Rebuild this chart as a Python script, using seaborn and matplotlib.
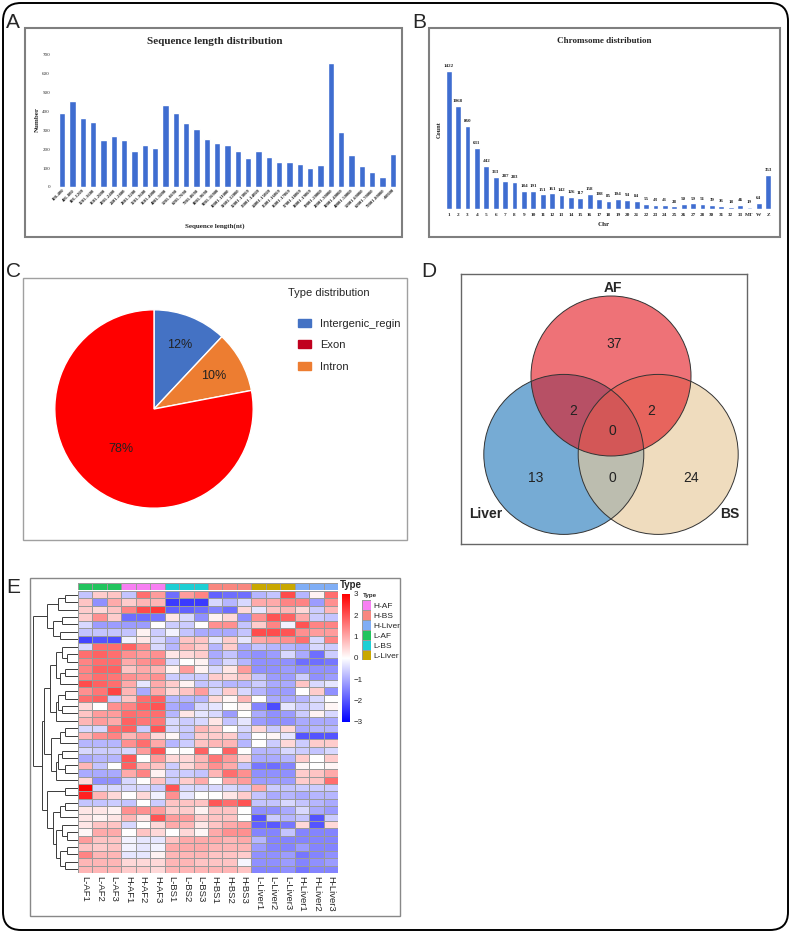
import numpy as np
import pandas as pd
import matplotlib
matplotlib.use("Agg")
import matplotlib.pyplot as plt
import seaborn as sns
from matplotlib.patches import FancyBboxPatch, Rectangle, Circle
from matplotlib.colors import LinearSegmentedColormap, ListedColormap
from matplotlib.transforms import IdentityTransform

sns.set_style("white")
plt.rcParams["font.family"] = ["Liberation Sans", "DejaVu Sans"]

# ---------------- data ----------------
seq_bins = ["100-400", "401-800", "801-1200", "1201-1600", "1601-2000", "2001-2400",
            "2401-2800", "2801-3200", "3201-3600", "3601-4000", "4001-5000", "5001-6000",
            "6001-7000", "7001-8000", "8001-9000", "9001-10000", "10001-11000",
            "11001-12000", "12001-13000", "13001-14000", "14001-15000", "15001-16000",
            "16001-17000", "17001-18000", "18001-19000", "19001-20000", "20001-30000",
            "30001-40000", "40001-50000", "50001-60000", "60001-70000", "70001-80000",
            ">80000"]
seq_counts = [390, 455, 365, 345, 250, 268, 248, 192, 222, 205, 435, 395, 340, 310,
              255, 232, 225, 193, 153, 190, 160, 135, 135, 120, 100, 115, 660, 290,
              170, 113, 82, 55, 175]

chr_labels = [str(i) for i in range(1, 29)] + ["30", "31", "32", "33", "MT", "W", "Z"]
chr_counts = [1422, 1068, 860, 631, 442, 333, 287, 283, 184, 191, 151, 161, 142, 126,
              117, 158, 108, 85, 104, 94, 84, 55, 43, 41, 28, 50, 59, 51, 39, 36, 18,
              46, 19, 64, 353]

pie_labels = ["Intergenic_regin", "Intron", "Exon"]
pie_values = [12, 10, 78]
pie_colors = ["#4472C4", "#ED7D31", "#FF0000"]
legend_labels = ["Intergenic_regin", "Exon", "Intron"]
legend_colors = ["#4472C4", "#C0001E", "#ED7D31"]

venn_sets = ["AF", "Liver", "BS"]
venn_colors = {"AF": "#E3141C", "Liver": "#76ABD4", "BS": "#E6C89A"}
venn_alpha = {"AF": 0.6, "Liver": 1.0, "BS": 0.635}
venn_regions = ["AF", "AF&Liver", "AF&BS", "AF&Liver&BS", "Liver", "Liver&BS", "BS"]
venn_counts = [37, 2, 2, 0, 13, 0, 24]

samples = ["L-AF1", "L-AF2", "L-AF3", "H-AF1", "H-AF2", "H-AF3", "L-BS1", "L-BS2",
           "L-BS3", "H-BS1", "H-BS2", "H-BS3", "L-Liver1", "L-Liver2", "L-Liver3",
           "H-Liver1", "H-Liver2", "H-Liver3"]
sample_type = ["L-AF"] * 3 + ["H-AF"] * 3 + ["L-BS"] * 3 + ["H-BS"] * 3 + \
              ["L-Liver"] * 3 + ["H-Liver"] * 3
type_levels = ["H-AF", "H-BS", "H-Liver", "L-AF", "L-BS", "L-Liver"]
type_colors = ["#F77FF2", "#F8877F", "#80AEF5", "#22C45E", "#1DCFD4", "#C9A800"]

heat_values = [
    [-0.7, 0.6, 0.7, -0.7, 1.7, 1.15, -1.7, 1.15, 1.45, -1.85, -1.7, -1.7, -0.85, -0.7, 2.1, -0.85, 0.15, 1.7],
    [0.7, -1.3, 1.0, 0.6, 0.85, 0.85, -2.3, -2.3, -2.3, -0.45, -0.85, -0.45, 1.0, 1.0, 1.45, 1.45, -1.15, 1.3],
    [0.6, 0.45, 0.7, 1.45, 2.1, 2.3, -1.85, -1.85, -1.7, -1.45, -1.7, 0.45, -0.3, 0.7, 0.85, 0.45, -0.6, 0.85],
    [0.6, 1.3, 0.6, -1.7, -1.7, -1.6, 0.3, -0.45, -1.3, 0.15, 0.45, -1.3, 1.3, 2.0, 1.85, 1.0, -0.6, -0.7],
    [-0.45, -1.15, -1.15, -1.15, -1.15, 0.0, -0.6, -0.6, 0.0, 1.3, 1.3, -0.7, 0.6, 1.45, -0.15, 2.0, 1.45, 1.45],
    [-0.7, -0.7, -0.7, -0.7, 0.15, -0.6, -0.15, -0.7, -1.0, -1.0, -1.0, -0.7, 2.1, 2.1, 2.0, 1.3, 1.15, 1.15],
    [-2.2, -2.0, -2.1, -0.15, 0.3, -0.45, -0.85, 0.7, 0.7, -0.3, 0.6, -0.3, 1.0, 1.15, 1.3, 1.7, -0.45, 1.45],
    [-0.45, 1.7, 1.7, 1.85, 1.3, -0.45, -0.85, 0.85, 0.6, -0.85, 0.6, -1.0, -0.7, -0.85, -0.85, -1.0, -0.45, -0.6],
    [1.7, 1.85, 1.7, 1.3, 1.15, 1.3, 0.3, 0.45, 0.6, -1.0, -0.7, -1.15, -1.3, -1.15, -0.45, -1.0, -1.7, -0.6],
    [1.45, 1.7, 1.7, 1.0, 1.3, 1.45, -0.45, 0.0, 0.15, -0.85, -0.45, -0.85, -1.3, -1.3, -1.3, -1.7, -1.7, -1.6],
    [1.45, 1.85, 1.85, 0.7, 1.0, 0.85, 0.15, 1.15, 0.15, -0.45, 0.3, 1.15, -1.3, -1.3, -1.15, -1.3, -1.3, -1.3],
    [1.45, 1.7, 1.6, 1.3, 1.15, 1.3, -0.6, -0.6, -0.6, 0.6, 0.45, 0.7, -0.7, -1.15, -1.15, -0.6, -1.3, -1.15],
    [2.1, 1.85, 1.7, 1.0, -0.3, 1.0, 0.6, 0.15, -0.7, -0.6, -0.85, -0.85, -0.6, -1.0, -1.0, 0.7, -0.45, -0.3],
    [1.3, 1.6, 2.2, 0.85, -1.0, 1.0, 0.45, 0.7, 1.15, -0.45, 0.6, -0.45, -0.85, -1.15, -1.15, 0.0, 0.6, -1.3],
    [1.7, 1.85, -0.6, 0.7, 1.7, 1.85, -0.85, -0.85, -0.85, 0.45, 0.1, 0.85, 0.0, -1.0, -1.0, -0.85, -0.45, 0.0],
    [0.45, 0.0, 1.3, 1.45, 1.85, 2.0, -1.0, -1.15, -0.45, -0.3, 0.0, 0.15, -1.45, -2.1, -0.3, -0.6, -0.45, 0.1],
    [0.7, 1.15, 1.15, 1.7, 1.6, 1.7, -0.85, 0.3, -0.3, -0.45, -1.15, 0.0, -1.0, -1.3, -1.15, -0.6, 0.15, -0.45],
    [0.85, 1.15, 1.0, 1.85, 1.6, 1.6, -0.45, -0.6, -0.45, 0.3, -0.7, -0.3, -1.15, -1.3, -1.3, -1.0, -1.0, -1.0],
    [-0.45, -0.45, 1.7, 1.85, -0.6, 2.0, -0.45, -0.6, 0.85, 0.6, 0.0, -0.45, 0.45, -0.6, 0.45, -1.0, -0.85, -0.85],
    [0.85, 1.3, 1.45, 0.85, 1.15, 0.45, 0.1, -0.7, 0.6, 0.6, 0.6, -0.7, 0.0, 0.1, -0.3, -2.0, -2.0, -2.0],
    [-0.85, -0.85, -0.85, 1.3, 1.7, 1.0, -0.85, -0.6, 0.7, 0.85, 0.85, -0.85, 0.0, -0.6, 0.45, -0.6, 0.6, 0.6],
    [-0.45, -0.6, -0.6, -0.45, 1.15, 2.0, 0.0, 0.0, 1.85, 0.0, 1.85, 0.0, -0.85, -0.85, -0.45, -0.6, -0.7, -0.45],
    [-1.0, -0.85, -0.85, 1.95, 0.0, 1.15, 0.45, 0.45, 0.85, 1.6, 1.15, 0.45, -1.0, -1.0, -0.85, 0.6, 0.0, 0.6],
    [0.85, -0.7, 0.0, 1.85, 0.85, 0.7, -0.6, 0.45, 0.85, 1.3, 1.0, -0.7, -1.6, -1.7, -1.45, 0.1, 0.0, 0.1],
    [-1.0, -1.0, -1.0, 1.0, 1.45, 0.15, -0.6, -0.6, -0.7, 0.85, 1.7, 1.3, -1.3, -1.3, -1.3, 0.6, 0.7, 1.0],
    [0.45, -1.3, -1.3, -0.45, 0.0, 0.7, -0.6, 0.6, 1.0, 0.0, 1.0, 1.15, -1.15, -1.15, -1.15, 0.6, 0.7, 1.7],
    [3.0, -0.45, -0.45, -0.45, -0.45, -0.6, 2.0, -0.45, -0.45, -0.45, -0.45, -0.6, 1.0, -0.6, -0.7, -0.6, -0.6, -0.6],
    [2.6, 0.85, 0.45, 0.0, 0.45, -0.15, 1.3, -0.3, 0.0, 0.0, 0.3, 0.6, -0.7, -1.0, -0.85, -1.0, -0.85, -0.85],
    [-0.7, -0.7, -0.6, -0.7, 0.0, -0.6, 0.7, 0.7, 0.7, 1.95, 1.7, 2.0, -0.7, -0.7, -0.45, -0.7, -0.85, -1.0],
    [0.3, 0.3, 0.15, 1.3, 1.3, 1.15, 0.6, 0.6, 0.15, 0.7, 0.7, 0.0, -1.3, -1.3, -1.0, -0.45, -1.0, -1.15],
    [0.3, 0.15, 0.3, 0.85, 0.3, 2.0, 1.15, 1.15, 0.6, 0.7, 0.7, 0.0, -2.0, -0.6, -0.85, -0.7, -2.0, -0.6],
    [0.3, 0.7, 0.7, -0.45, 0.0, 0.45, 1.0, 0.85, 0.3, 0.7, 1.0, 1.15, -1.85, -1.95, -1.6, 0.45, -2.0, 0.45],
    [0.1, 1.0, 1.0, 0.0, 0.7, 0.45, 0.0, 0.45, 0.1, 1.0, 1.3, 1.3, -1.45, -1.45, -0.7, -1.45, -1.45, -1.45],
    [1.15, 0.7, 0.7, -0.15, -0.3, -0.3, 0.7, 1.0, 1.0, 1.0, 0.85, 1.0, -0.85, -1.45, -1.45, -1.45, -1.45, -1.45],
    [0.7, 0.6, 0.7, -0.15, -0.3, -0.15, 1.0, 1.0, 1.0, 0.85, 0.85, 0.85, -1.15, -1.45, -1.45, -1.15, -1.45, -1.45],
    [1.45, 0.85, 0.85, -0.3, -0.3, 0.15, 0.85, 0.85, 0.85, 0.7, 0.7, 0.6, -1.3, -1.3, -1.15, -1.6, -1.45, -1.3],
    [0.85, 0.85, 0.85, 0.45, 0.45, 0.45, 0.85, 0.85, 0.7, 0.7, 0.7, -0.1, -1.3, -1.3, -1.15, -1.45, -1.3, -1.15],
    [0.85, 0.85, 0.85, 0.6, 0.6, 0.45, 0.85, 0.85, 0.85, 0.85, 0.85, 0.7, -1.45, -1.45, -1.3, -1.6, -1.45, -1.45],
]

# row dendrogram: (height, left, right); leaves are row indices
row_tree = (1.0,
            (0.70, (0.45, (0.30, 0, 1), 2), (0.55, (0.35, 3, 4), (0.40, 5, 6))),
            (0.80,
             (0.75,
              (0.62, (0.50, (0.35, 7, (0.25, 8, 9)), (0.40, (0.30, 10, 11), 12)),
                     (0.50, (0.45, (0.30, 13, 14), (0.35, 15, 16)), 17)),
              (0.60, (0.40, (0.30, 18, 19), 20),
                     (0.50, (0.45, (0.35, 21, 22), (0.30, 23, 24)), 25))),
             (0.68, (0.30, 26, 27),
                    (0.55, (0.40, (0.30, 28, 29), 30),
                           (0.50, (0.35, 31, (0.25, 32, 33)),
                                  (0.40, (0.25, 34, 35), (0.30, 36, 37)))))))

# ---------------- figure ----------------
W, H = 791, 933
fig = plt.figure(figsize=(W / 100, H / 100), dpi=100)
SERIF = "Liberation Serif"


def ax_px(x0, y0, x1, y1):
    return fig.add_axes([x0 / W, 1 - y1 / H, (x1 - x0) / W, (y1 - y0) / H])


def box_px(x0, y0, x1, y1, color, lw):
    fig.patches.append(Rectangle((x0 / W, 1 - y1 / H), (x1 - x0) / W, (y1 - y0) / H,
                                 transform=fig.transFigure, fill=False, ec=color, lw=lw))


def text_px(x, y, s, **kw):
    return fig.text(x / W, 1 - y / H, s, **kw)


# outer rounded frame
fig.patches.append(FancyBboxPatch((3, 3), 785, 927, boxstyle="round,pad=0,rounding_size=18",
                                  transform=IdentityTransform(), fill=False, ec="black", lw=1.4))

# panel letters
for lab, (x, y) in zip("ABCDE", [(6, 28), (412, 28), (6, 277), (421, 277), (6, 593)]):
    text_px(x, y, lab, fontsize=15, ha="left", va="baseline")

# ---------------- A ----------------
box_px(25, 28, 402, 237, "#7f7f7f", 1.5)
axA = ax_px(57, 55, 398, 187)
dfA = pd.DataFrame({"bin": seq_bins, "n": seq_counts})
sns.barplot(data=dfA, x="bin", y="n", ax=axA, color="#3f6dd0", saturation=1, width=0.6)
axA.set_ylim(0, 700)
axA.set_yticks(range(0, 701, 100))
axA.set_xlim(-0.5, len(seq_bins) - 0.5)
axA.set_xlabel("")
axA.set_ylabel("")
sns.despine(ax=axA, left=True, bottom=True)
axA.tick_params(axis="y", length=0, pad=5, labelsize=3.6)
axA.tick_params(axis="x", length=0, pad=1, labelsize=3.4)
for t in axA.get_yticklabels():
    t.set_fontfamily(SERIF)
for t in axA.get_xticklabels():
    t.set_fontfamily(SERIF)
    t.set_fontweight("bold")
    t.set_rotation(45)
    t.set_ha("right")
    t.set_rotation_mode("anchor")
text_px(215, 41, "Sequence length distribution", fontsize=8, fontweight="bold",
        family=SERIF, ha="center", va="center")
text_px(215, 226, "Sequence length(nt)", fontsize=5, fontweight="bold", family=SERIF,
        ha="center", va="center")
text_px(37, 120, "Number", fontsize=5, fontweight="bold", family=SERIF, rotation=90,
        ha="center", va="center")

# ---------------- B ----------------
box_px(429, 28, 780, 237, "#7f7f7f", 1.5)
axB = ax_px(444, 55, 773, 209)
dfB = pd.DataFrame({"chr": chr_labels, "n": chr_counts})
palB = {c: ("#a9c0ec" if c == "MT" else "#3f6dd0") for c in chr_labels}
sns.barplot(data=dfB, x="chr", y="n", hue="chr", palette=palB, legend=False, ax=axB,
            saturation=1, width=0.6)
axB.set_ylim(0, 1590)
axB.set_xlim(-0.5, len(chr_labels) - 0.5)
axB.set_yticks([])
axB.set_xlabel("")
axB.set_ylabel("")
sns.despine(ax=axB, left=True, bottom=True)
axB.tick_params(axis="x", length=0, pad=3, labelsize=3.8)
for t in axB.get_xticklabels():
    t.set_fontfamily(SERIF)
    t.set_fontweight("bold")
for cont in axB.containers:
    axB.bar_label(cont, fontsize=3.6, fontweight="bold", family=SERIF, padding=2)
text_px(604, 41, "Chromsome distribution", fontsize=6.5, fontweight="bold", family=SERIF,
        ha="center", va="center")
text_px(604, 224, "Chr", fontsize=5, fontweight="bold", family=SERIF, ha="center",
        va="center")
text_px(439, 130, "Count", fontsize=4.6, fontweight="bold", family=SERIF, rotation=90,
        ha="center", va="center")

# ---------------- C ----------------
box_px(23, 278, 407, 540, "#a0a0a0", 1.0)
axC = ax_px(30, 285, 278, 533)
wedges, texts, autotexts = axC.pie(pie_values, colors=pie_colors, startangle=90,
                                   counterclock=False, autopct="%d%%", pctdistance=0.69,
                                   wedgeprops=dict(edgecolor="white", linewidth=1.0),
                                   textprops=dict(fontsize=9, color="#222222"))
axC.set_aspect("equal")
x78, y78 = autotexts[2].get_position()
autotexts[2].set_position((x78 * 0.75, y78 * 0.75))
text_px(288, 293, "Type distribution", fontsize=8, ha="left", va="center")
handles = [Rectangle((0, 0), 1, 1, color=c) for c in legend_colors]
legC = fig.legend(handles, legend_labels, frameon=False,
                  loc="upper left", bbox_to_anchor=(292 / W, 1 - 313 / H),
                  fontsize=8, handlelength=1.2, handleheight=0.75,
                  handletextpad=0.8, labelspacing=1.05, borderpad=0)

# ---------------- D ----------------
axD = ax_px(461, 274, 747, 544)
axD.set_xlim(-1.875, 1.7)
axD.set_ylim(-1.45, 1.925)
axD.set_aspect("equal")
axD.set_xticks([])
axD.set_yticks([])
for s in axD.spines.values():
    s.set_color("#666666")
    s.set_linewidth(1.0)
    s.set_visible(True)
centers = {"AF": (0.0, 0.65), "Liver": (-0.59, -0.33), "BS": (0.59, -0.33)}
for name in ["Liver", "BS", "AF"]:
    axD.add_patch(Circle(centers[name], 1.0, fc=venn_colors[name], alpha=venn_alpha[name],
                         ec="none"))
for name in venn_sets:
    axD.add_patch(Circle(centers[name], 1.0, fc="none", ec="#333333", lw=0.7))
label_pos = {"AF": (0.025, 1.75), "Liver": (-1.56, -1.075), "BS": (1.49, -1.075)}
for name in venn_sets:
    axD.text(*label_pos[name], name, fontsize=10, fontweight="bold", ha="center",
             va="center")
region_pos = {"AF": (0.04, 1.05), "AF&Liver": (-0.475, 0.21), "AF&BS": (0.5, 0.21),
              "AF&Liver&BS": (0.0125, -0.04), "Liver": (-0.94, -0.625),
              "Liver&BS": (0.0125, -0.625), "BS": (1.0, -0.625)}
for reg, cnt in zip(venn_regions, venn_counts):
    axD.text(*region_pos[reg], str(cnt), fontsize=10, ha="center", va="center",
             color="#222222")

# ---------------- E ----------------
box_px(30, 578, 400, 916, "#888888", 1.0)
df_heat = pd.DataFrame(heat_values, columns=samples)
cmap = LinearSegmentedColormap.from_list("bwr_ph", ["#0000FF", "#FFFFFF", "#FF0000"])
axH = ax_px(78, 591, 338, 873)
axCb = ax_px(342, 594, 350, 722)
sns.heatmap(df_heat, ax=axH, cmap=cmap, vmin=-3, vmax=3, linewidths=0.6,
            linecolor="#9a9a9a", cbar_ax=axCb, xticklabels=True, yticklabels=False)
axH.tick_params(axis="x", length=0, pad=2, labelsize=6.8)
for t in axH.get_xticklabels():
    t.set_rotation(270)
    t.set_va("top")
    t.set_ha("center")
cbar = axH.collections[0].colorbar
cbar.outline.set_visible(False)
cbar.set_ticks([-3, -2, -1, 0, 1, 2, 3])
axCb.tick_params(length=0, pad=2.5, labelsize=5.8)

# column annotation
axAnn = ax_px(78, 583, 338, 590)
ann_idx = np.array([[type_levels.index(t) for t in sample_type]])
sns.heatmap(ann_idx, ax=axAnn, cmap=ListedColormap(type_colors), vmin=-0.5, vmax=5.5,
            cbar=False, linewidths=0.6, linecolor="#9a9a9a", xticklabels=False,
            yticklabels=False)
text_px(340, 585, "Type", fontsize=7, fontweight="bold", ha="left", va="center")

# annotation legend
axL = ax_px(362, 600, 371, 660)
sns.heatmap(np.arange(len(type_levels)).reshape(-1, 1), ax=axL,
            cmap=ListedColormap(type_colors), vmin=-0.5, vmax=5.5, cbar=False,
            linewidths=0.5, linecolor="#9a9a9a", xticklabels=False,
            yticklabels=type_levels)
axL.yaxis.tick_right()
axL.tick_params(axis="y", length=0, pad=1.5, labelsize=6, rotation=0)
text_px(363, 595.5, "Type", fontsize=4.5, fontweight="bold", ha="left", va="center")

# row dendrogram
axDen = ax_px(33, 591, 78, 873)
axDen.set_ylim(len(heat_values), 0)
axDen.set_xlim(1.0, 0)
axDen.axis("off")


def draw_tree(node):
    if isinstance(node, int):
        return node + 0.5, 0.0
    h, left, right = node
    yl, hl = draw_tree(left)
    yr, hr = draw_tree(right)
    axDen.plot([hl, h], [yl, yl], color="#3a3a3a", lw=0.7, solid_capstyle="butt")
    axDen.plot([hr, h], [yr, yr], color="#3a3a3a", lw=0.7, solid_capstyle="butt")
    axDen.plot([h, h], [yl, yr], color="#3a3a3a", lw=0.7, solid_capstyle="butt")
    return (yl + yr) / 2, h


draw_tree(row_tree)

fig.savefig("out.png", dpi=100)
